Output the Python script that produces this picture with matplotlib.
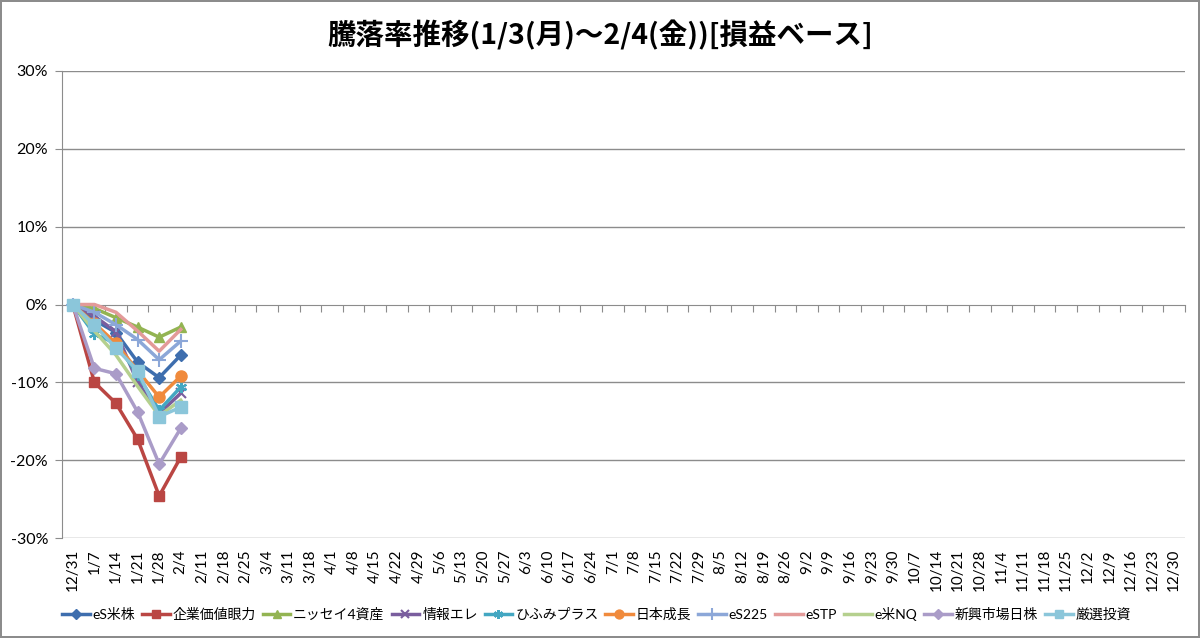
#!/usr/bin/env python3
# 騰落率推移 chart (weekly, profit/loss basis)

import matplotlib
matplotlib.use("Agg")
import matplotlib.pyplot as plt
from matplotlib.ticker import FixedLocator, FuncFormatter

plt.rcParams['font.family'] = ['Lato', 'Noto Sans CJK JP', 'DejaVu Sans']

# Categories (weekly dates)
dates = ['12/31', '1/7', '1/14', '1/21', '1/28', '2/4', '2/11', '2/18', '2/25',
         '3/4', '3/11', '3/18', '4/1', '4/8', '4/15', '4/22', '4/29',
         '5/6', '5/13', '5/20', '5/27', '6/3', '6/10', '6/17', '6/24',
         '7/1', '7/8', '7/15', '7/22', '7/29', '8/5', '8/12', '8/19', '8/26',
         '9/2', '9/9', '9/16', '9/23', '9/30', '10/7', '10/14', '10/21', '10/28',
         '11/4', '11/11', '11/18', '11/25', '12/2', '12/9', '12/16', '12/23', '12/30']

# Series values in % (only first six weeks available)
es_us = [0, -2.0, -3.6, -7.4, -9.4, -6.5]
kigyo = [0, -10.0, -12.7, -17.3, -24.6, -19.6]
nissay4 = [0, -0.5, -1.7, -2.9, -4.2, -2.9]
joho = [0, -1.5, -3.5, -10.0, -14.0, -11.4]
hifumi = [0, -3.8, -5.0, -9.0, -13.6, -10.6]
nihon = [0, -2.4, -5.0, -8.5, -11.9, -9.2]
es225 = [0, -1.0, -2.6, -4.5, -7.1, -4.7]
estp = [0, 0.0, -1.0, -3.4, -6.0, -3.2]
e_nq = [0, -3.4, -6.5, -10.5, -14.3, -12.3]
shinko = [0, -8.2, -8.9, -13.8, -20.5, -15.9]
gensen = [0, -2.6, -5.6, -8.5, -14.4, -13.2]

series = [
    ('eS米株', es_us, '#3E6EAE', 'D', 6),
    ('企業価値眼力', kigyo, '#BA4643', 's', 7),
    ('ニッセイ4資産', nissay4, '#93B452', '^', 7),
    ('情報エレ', joho, '#7A5E9E', 'x', 7),
    ('ひふみプラス', hifumi, '#43A7C2', (6, 2, 0), 8),
    ('日本成長', nihon, '#F08A3C', 'o', 8),
    ('eS225', es225, '#8CA7D8', '+', 10),
    ('eSTP', estp, '#E39A99', None, 0),
    ('e米NQ', e_nq, '#B5D08E', None, 0),
    ('新興市場日株', shinko, '#AA9CC8', 'D', 6),
    ('厳選投資', gensen, '#8BC6DA', 's', 8),
]

fig = plt.figure(figsize=(12, 6.38), dpi=100)
fig.patch.set_edgecolor('#8c8c8c')
fig.patch.set_linewidth(1.5)
ax = fig.add_axes([62 / 1200, 1 - 538 / 638, (1185 - 62) / 1200, (538 - 71) / 638])

for name, vals, color, marker, ms in series:
    xs = list(range(len(vals)))
    ax.plot(xs, vals, color=color, linewidth=2.5, marker=marker, markersize=ms,
            markeredgewidth=1.5 if marker in ('x', '+', (6, 2, 0)) else 1,
            label=name, zorder=3)

ax.set_xlim(-0.5, len(dates) - 0.5)
ax.set_ylim(-30, 30)

# horizontal gridlines
for v in [30, 20, 10, -10, -20, -30]:
    ax.axhline(v, color='#8c8c8c', linewidth=1, zorder=1)

# y axis
ax.yaxis.set_major_locator(FixedLocator([-30, -20, -10, 0, 10, 20, 30]))
ax.yaxis.set_major_formatter(FuncFormatter(lambda v, p: f"{v:.0f}%"))
ax.tick_params(axis='y', direction='out', length=5, color='#8c8c8c', labelsize=11.5, pad=5)
ax.spines['left'].set_color('#8c8c8c')
for s in ['top', 'right']:
    ax.spines[s].set_visible(False)

# category axis line at 0% with tick marks between categories
ax.spines['bottom'].set_position(('data', 0))
ax.spines['bottom'].set_color('#8c8c8c')
ax.set_xticks([i - 0.5 for i in range(len(dates) + 1)])
ax.tick_params(axis='x', direction='out', length=5, color='#8c8c8c', labelbottom=False)

# labels at the low position
sec = ax.secondary_xaxis('bottom')
sec.set_xticks(range(len(dates)))
sec.set_xticklabels(dates, rotation=90, fontsize=11)
sec.tick_params(axis='x', length=0, pad=8)
sec.spines['bottom'].set_visible(False)

fig.text(0.5, 0.945, '騰落率推移(1/3(月)～2/4(金))[損益ベース]', ha='center', va='center',
         fontsize=20.5, fontweight='bold', family=['Noto Sans CJK JP', 'DejaVu Sans'])

leg = fig.legend(loc='center', bbox_to_anchor=(0.497, 1 - 614 / 638), ncol=len(series),
                 frameon=False, handlelength=2.0, handletextpad=0.2, markerscale=0.8,
                 columnspacing=0.5, prop={'family': ['Lato', 'Noto Sans CJK JP'], 'size': 10})

fig.savefig('out.png', dpi=100, facecolor='white', edgecolor=fig.patch.get_edgecolor())
